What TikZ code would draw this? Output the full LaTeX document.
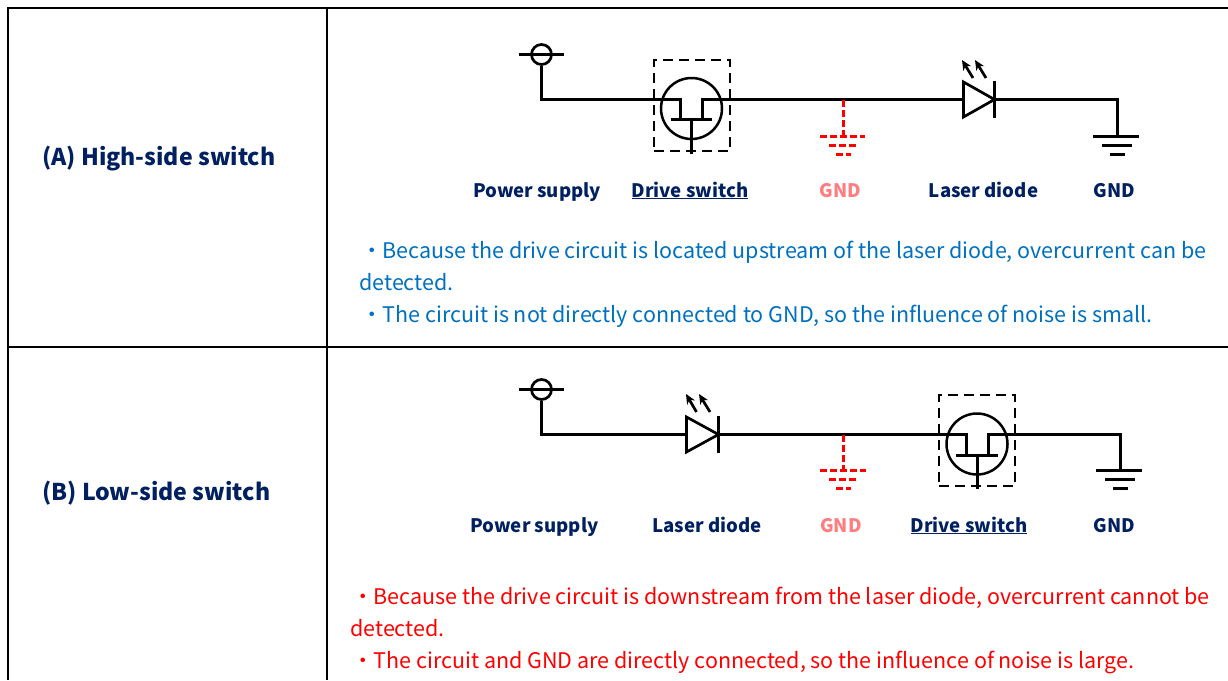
\documentclass[tikz,border=0pt]{standalone}
\usepackage{fontspec}
\setmainfont{Noto Sans CJK JP}
\usetikzlibrary{arrows.meta}
\definecolor{navytext}{HTML}{002060}
\definecolor{bluetext}{HTML}{0070C0}
\definecolor{pinktext}{HTML}{FF7C80}
\tikzset{
  grid/.style={draw=black, line width=1.1pt},
  wire/.style={draw=black, line width=2.7pt, line cap=butt, line join=miter},
  redwire/.style={draw=red, line width=2.7pt, dash pattern=on 7pt off 3pt},
  dashbox/.style={draw=black, line width=2pt, dash pattern=on 10pt off 6pt, minimum width=76pt, minimum height=91pt, inner sep=0pt},
  termcirc/.style={draw=black, line width=2.7pt, circle, minimum size=20pt, inner sep=0pt},
  fetcirc/.style={draw=black, line width=2.5pt, circle, minimum size=61pt, inner sep=0pt},
  led/.style={wire, -{Stealth[length=10pt,width=9pt]}},
  title/.style={anchor=base west, text=navytext, font=\fontsize{23.1}{28}\selectfont\bfseries, inner sep=0pt},
  lbl/.style={text=navytext, font=\fontsize{18.6}{23}\selectfont\bfseries, inner sep=0pt, anchor=base},
  body/.style={anchor=base west, font=\fontsize{21.5}{26}\selectfont, inner sep=0pt}
}
\begin{document}
\begin{tikzpicture}[x=1pt, y=-1pt]
\useasboundingbox (0, 0) rectangle (1228, 680);
% table
\coordinate (tl) at (8, 8);
\coordinate (tr) at (1228, 8);
\coordinate (ml) at (8, 347);
\coordinate (mr) at (1228, 347);
\coordinate (bl) at (8, 680);
\coordinate (tm) at (327, 8);
\coordinate (bm) at (327, 680);
\draw [grid] (tr) -- (tl) -- (bl);
\draw [grid] (ml) -- (mr);
\draw [grid] (tm) -- (bm);
\node [title] (titleA) at (42, 165) {(A) High-side switch};
\node [title] (titleB) at (42, 500) {(B) Low-side switch};
% high-side circuit
\node [termcirc] (vccA) at (541.5, 54.5) {};
\coordinate (vccAl) at (519, 54.5);
\coordinate (vccAr) at (564, 54.5);
\draw [wire] (vccAl) -- (vccAr);
\node [fetcirc] (fetA) at (691.5, 108.5) {};
\node [dashbox] (boxA) at (692, 105.5) {};
\coordinate (cornerA) at (541.5, 99.5);
\coordinate (drainA) at (680.5, 99.5);
\coordinate (drainAb) at (680.5, 119.5);
\coordinate (srcA) at (702.5, 99.5);
\coordinate (srcAb) at (702.5, 119.5);
\coordinate (gateAl) at (671, 119.5);
\coordinate (gateAr) at (712, 119.5);
\coordinate (gateAm) at (691.5, 119.5);
\coordinate (gateAe) at (691.5, 154);
\draw [wire] (vccA) -- (cornerA) -- (drainA) -- (drainAb);
\draw [wire] (gateAl) -- (gateAr);
\draw [wire] (gateAm) -- (gateAe);
\coordinate (ledAa) at (963.5, 99.5);
\coordinate (ledAt) at (963.5, 82);
\coordinate (ledAb) at (963.5, 117);
\coordinate (ledAk) at (994.5, 99.5);
\coordinate (ledAu) at (994.5, 81);
\coordinate (ledAd) at (994.5, 118);
\coordinate (cornerAr) at (1117.5, 99.5);
\coordinate (gndA) at (1117.5, 136);
\draw [wire] (srcAb) -- (srcA) -- (cornerAr) -- (gndA);
\draw [wire, fill=white] (ledAt) -- (ledAk) -- (ledAb) -- cycle;
\draw [wire] (ledAu) -- (ledAd);
\coordinate (rayAa) at (973, 78);
\coordinate (rayAb) at (962, 60);
\coordinate (rayAc) at (986, 78);
\coordinate (rayAd) at (975, 60);
\draw [led] (rayAa) -- (rayAb);
\draw [led] (rayAc) -- (rayAd);
\draw [wire] (1093, 136.5) -- (1139, 136.5);
\draw [wire] (1102, 145.5) -- (1132, 145.5);
\draw [wire] (1110, 154.5) -- (1125, 154.5);
\coordinate (tapA) at (843.5, 100);
\coordinate (rgndA) at (843.5, 136);
\draw [redwire] (tapA) -- (rgndA);
\draw [redwire] (820, 136.5) -- (865, 136.5);
\draw [redwire] (829, 145.5) -- (858, 145.5);
\draw [redwire] (836, 154.5) -- (851, 154.5);
\node [lbl] (lblA1) at (537, 197) {Power supply};
\node [lbl] (lblA2) at (690, 197) {\underline{Drive switch}};
\node [lbl, text=pinktext] (lblA3) at (840.5, 197) {GND};
\node [lbl] (lblA4) at (983.5, 197) {Laser diode};
\node [lbl] (lblA5) at (1114.5, 197) {GND};
\node [body, text=bluetext] (txtA1) at (361, 258.5) {・Because the drive circuit is located upstream of the laser diode, overcurrent can be};
\node [body, text=bluetext] (txtA2) at (359, 290.5) {detected.};
\node [body, text=bluetext] (txtA3) at (361, 322.5) {・The circuit is not directly connected to GND, so the influence of noise is small.};
% low-side circuit
\node [termcirc] (vccB) at (541.5, 389.5) {};
\coordinate (vccBl) at (519, 389.5);
\coordinate (vccBr) at (564, 389.5);
\draw [wire] (vccBl) -- (vccBr);
\coordinate (cornerB) at (541.5, 434.5);
\coordinate (ledBk) at (718.5, 434.5);
\coordinate (ledBt) at (686.5, 417);
\coordinate (ledBb) at (686.5, 452);
\coordinate (ledBu) at (718.5, 416);
\coordinate (ledBd) at (718.5, 453);
\coordinate (drainB) at (966.5, 434.5);
\coordinate (drainBb) at (966.5, 455);
\draw [wire] (vccB) -- (cornerB) -- (drainB) -- (drainBb);
\draw [wire, fill=white] (ledBt) -- (ledBk) -- (ledBb) -- cycle;
\draw [wire] (ledBu) -- (ledBd);
\coordinate (rayBa) at (696.5, 412);
\coordinate (rayBb) at (686, 394);
\coordinate (rayBc) at (710, 412);
\coordinate (rayBd) at (699, 394);
\draw [led] (rayBa) -- (rayBb);
\draw [led] (rayBc) -- (rayBd);
\node [fetcirc] (fetB) at (977, 444) {};
\node [dashbox] (boxB) at (977, 440.5) {};
\coordinate (srcB) at (988.5, 434.5);
\coordinate (srcBb) at (988.5, 455);
\coordinate (cornerBr) at (1120.5, 434.5);
\coordinate (gndB) at (1120.5, 470);
\coordinate (gateBl) at (956, 455.5);
\coordinate (gateBr) at (998, 455.5);
\coordinate (gateBm) at (977.5, 455);
\coordinate (gateBe) at (977.5, 489);
\draw [wire] (srcBb) -- (srcB) -- (cornerBr) -- (gndB);
\draw [wire] (gateBl) -- (gateBr);
\draw [wire] (gateBm) -- (gateBe);
\draw [wire] (1096, 470.5) -- (1142, 470.5);
\draw [wire] (1105, 479.5) -- (1135, 479.5);
\draw [wire] (1113, 488.5) -- (1128, 488.5);
\coordinate (tapB) at (843.5, 435);
\coordinate (rgndB) at (843.5, 470);
\draw [redwire] (tapB) -- (rgndB);
\draw [redwire] (820, 470.5) -- (866, 470.5);
\draw [redwire] (829, 479.5) -- (858, 479.5);
\draw [redwire] (836, 488.5) -- (851, 488.5);
\node [lbl] (lblB1) at (534.5, 532) {Power supply};
\node [lbl] (lblB2) at (707, 532) {Laser diode};
\node [lbl, text=pinktext] (lblB3) at (841, 532) {GND};
\node [lbl] (lblB4) at (969, 532) {\underline{Drive switch}};
\node [lbl] (lblB5) at (1114.5, 532) {GND};
\node [body, text=red] (txtB1) at (352, 604.5) {・Because the drive circuit is downstream from the laser diode, overcurrent cannot be};
\node [body, text=red] (txtB2) at (350, 636.5) {detected.};
\node [body, text=red] (txtB3) at (352, 668.5) {・The circuit and GND are directly connected, so the influence of noise is large.};
\end{tikzpicture}
\end{document}
